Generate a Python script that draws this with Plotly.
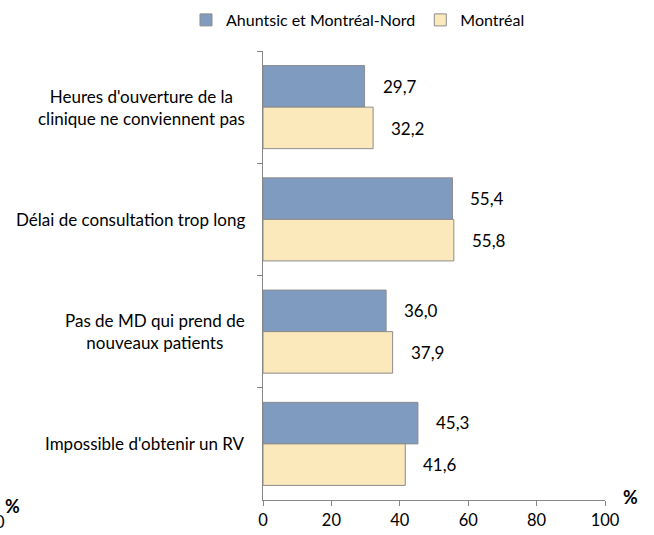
import plotly.graph_objects as go

categories = ["Heures d'ouverture de la<br>clinique ne conviennent pas",
              "Délai de consultation trop long",
              "Pas de MD qui prend de<br>nouveaux patients",
              "Impossible d'obtenir un RV"]
series_names = ["Ahuntsic et Montréal-Nord", "Montréal"]
ahuntsic = [29.7, 55.4, 36.0, 45.3]
montreal = [32.2, 55.8, 37.9, 41.6]
x_ticks = [0, 20, 40, 60, 80, 100]

FONT = "Lato"
FS = 17
L, R, T, B = 263, 49, 51, 35
PW, PH = 654 - L - R, 535 - T - B


def px(p):
    return (p - L) / PW


def py(p):
    return (535 - B - p) / PH


fig = go.Figure()
fig.add_trace(go.Bar(y=categories, x=ahuntsic, orientation="h", name=series_names[0],
                     marker=dict(color="#7f9bbf", line=dict(color="#8c8c8c", width=1))))
fig.add_trace(go.Bar(y=categories, x=montreal, orientation="h", name=series_names[1],
                     marker=dict(color="#fbe9bb", line=dict(color="#8c8c8c", width=1))))

ann = []
for c, a, m in zip(categories, ahuntsic, montreal):
    ann.append(dict(x=a, y=c, xref="x", yref="y", text=f"{a:.1f}".replace(".", ","),
                    showarrow=False, xanchor="left", xshift=16, yshift=21,
                    font=dict(size=FS, color="#000", family=FONT)))
    ann.append(dict(x=m, y=c, xref="x", yref="y", text=f"{m:.1f}".replace(".", ","),
                    showarrow=False, xanchor="left", xshift=16, yshift=-21,
                    font=dict(size=FS, color="#000", family=FONT)))
    ann.append(dict(x=0, y=c, xref="paper", yref="y", text=c, showarrow=False,
                    xanchor="right", align="center", xshift=-16,
                    font=dict(size=FS, color="#000", family=FONT)))
ann.append(dict(x=px(630), y=py(497), xref="paper", yref="paper", text="<b>%</b>",
                showarrow=False, xanchor="center", yanchor="middle",
                font=dict(size=18, color="#000", family=FONT)))
ann.append(dict(x=px(12), y=py(506), xref="paper", yref="paper", text="<b>%</b>",
                showarrow=False, xanchor="center", yanchor="middle",
                font=dict(size=18, color="#000", family=FONT)))
ann.append(dict(x=px(0), y=py(522), xref="paper", yref="paper", text="0",
                showarrow=False, xanchor="center", yanchor="middle",
                font=dict(size=16.5, color="#000", family=FONT)))

fig.update_layout(
    width=654, height=535,
    margin=dict(l=L, r=R, t=T, b=B, autoexpand=False),
    paper_bgcolor="white", plot_bgcolor="white",
    barmode="group", bargap=0.26, bargroupgap=0,
    font=dict(family=FONT, size=FS, color="#000"),
    showlegend=True,
    legend=dict(orientation="h", xref="container", yref="container",
                x=186 / 654, xanchor="left", y=1 - 20 / 535, yanchor="middle",
                font=dict(size=16, family=FONT), traceorder="normal", itemwidth=30,
                tracegroupgap=0),
    annotations=ann,
    xaxis=dict(range=[0, 100], tickvals=x_ticks, showgrid=False, zeroline=False,
               showline=True, linecolor="#868686", linewidth=1, ticks="outside",
               ticklen=5, tickcolor="#868686", tickfont=dict(size=16.5), fixedrange=True),
    yaxis=dict(autorange="reversed", showgrid=False, showline=True, linecolor="#868686",
               linewidth=1, ticks="outside", ticklen=5, tickcolor="#868686",
               tickson="boundaries", showticklabels=False, fixedrange=True),
)
fig.write_html("out.html", config={"displayModeBar": False},
               post_script="document.body.style.margin='0';document.body.style.overflow='hidden';")
